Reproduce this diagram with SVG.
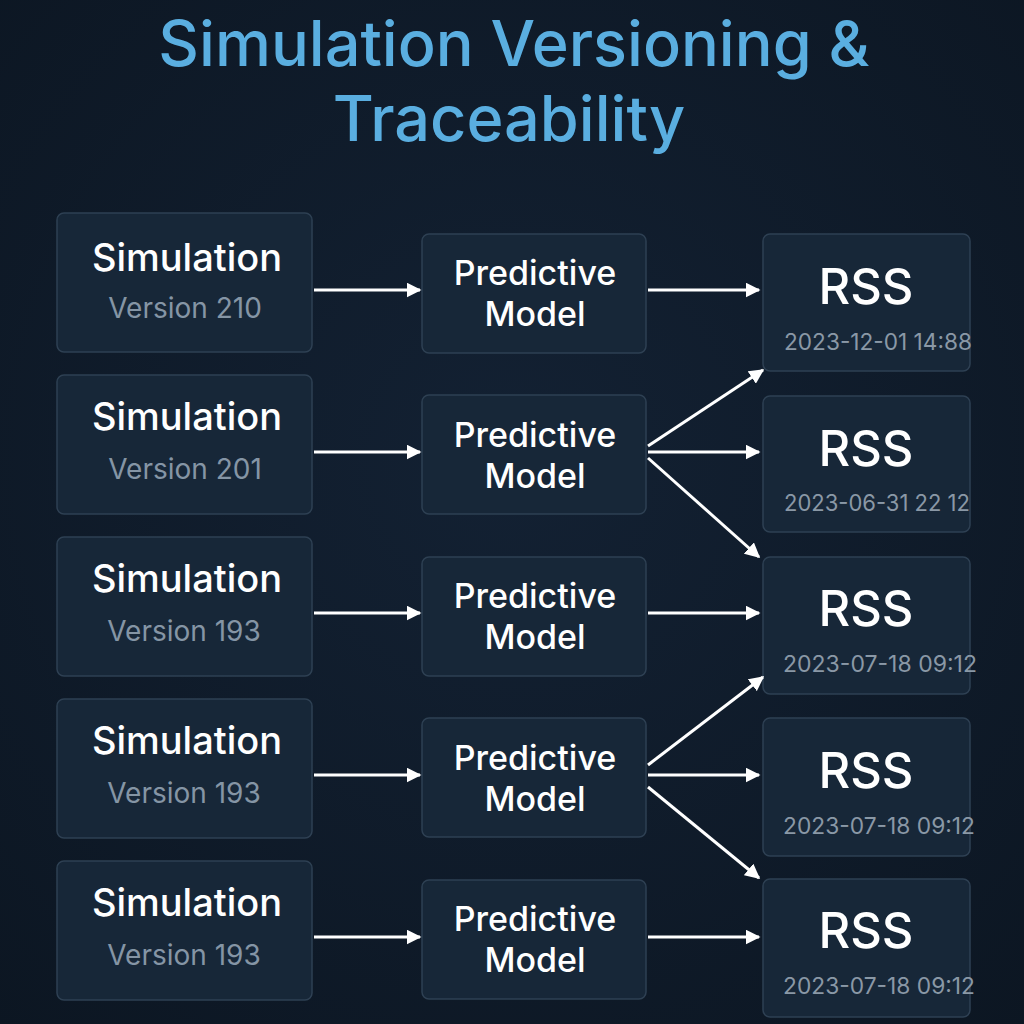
<svg xmlns="http://www.w3.org/2000/svg" width="1024" height="1024" viewBox="0 0 1024 1024">
<defs>
<marker id="ah" viewBox="0 0 10 10" refX="9" refY="5" markerWidth="15" markerHeight="15" markerUnits="userSpaceOnUse" orient="auto">
<path d="M0,0 L10,5 L0,10 Z" fill="#ffffff"/>
</marker>
<radialGradient id="bg" cx="50%" cy="45%" r="75%">
<stop offset="0" stop-color="#132133"/>
<stop offset="1" stop-color="#0c1622"/>
</radialGradient>
</defs>
<style>
.box{fill:#172738;stroke:#2e4053;stroke-width:1.5}
.t{font-family:Inter,"Noto Sans","Liberation Sans",sans-serif;text-anchor:middle}
.sim{font-size:38px;fill:#ffffff;font-weight:500}
.ver{font-size:28px;fill:#8595a5}
.pm{font-size:34px;fill:#ffffff;font-weight:500}
.rss{font-size:49px;fill:#ffffff;font-weight:500}
.dt{font-size:23px;fill:#8a98a6}
.title{font-size:63px;fill:#5aaee0;font-weight:500}
.c{stroke:#ffffff;stroke-width:3;fill:none;marker-end:url(#ah)}
</style>
<rect width="1024" height="1024" fill="url(#bg)"/>
<g id="title">
<text class="t title" x="514" y="66">Simulation Versioning &amp;</text>
<text class="t title" x="509" y="141">Traceability</text>
</g>
<g id="sim1"><rect class="box" x="57" y="213" width="255" height="139" rx="7"/><text class="t sim" x="187" y="271">Simulation</text><text class="t ver" x="185" y="318">Version 210</text></g>
<g id="sim2"><rect class="box" x="57" y="375" width="255" height="139" rx="7"/><text class="t sim" x="187" y="430">Simulation</text><text class="t ver" x="185" y="479">Version 201</text></g>
<g id="sim3"><rect class="box" x="57" y="537" width="255" height="139" rx="7"/><text class="t sim" x="187" y="592">Simulation</text><text class="t ver" x="184" y="641">Version 193</text></g>
<g id="sim4"><rect class="box" x="57" y="699" width="255" height="139" rx="7"/><text class="t sim" x="187" y="754">Simulation</text><text class="t ver" x="184" y="803">Version 193</text></g>
<g id="sim5"><rect class="box" x="57" y="861" width="255" height="139" rx="7"/><text class="t sim" x="187" y="916">Simulation</text><text class="t ver" x="184" y="965">Version 193</text></g>

<g id="pm1"><rect class="box" x="422" y="234" width="224" height="119" rx="7"/><text class="t pm" x="535" y="285">Predictive</text><text class="t pm" x="535" y="326">Model</text></g>
<g id="pm2"><rect class="box" x="422" y="395" width="224" height="119" rx="7"/><text class="t pm" x="535" y="447">Predictive</text><text class="t pm" x="535" y="488">Model</text></g>
<g id="pm3"><rect class="box" x="422" y="557" width="224" height="119" rx="7"/><text class="t pm" x="535" y="608">Predictive</text><text class="t pm" x="535" y="649">Model</text></g>
<g id="pm4"><rect class="box" x="422" y="718" width="224" height="119" rx="7"/><text class="t pm" x="535" y="770">Predictive</text><text class="t pm" x="535" y="811">Model</text></g>
<g id="pm5"><rect class="box" x="422" y="880" width="224" height="119" rx="7"/><text class="t pm" x="535" y="931">Predictive</text><text class="t pm" x="535" y="972">Model</text></g>

<g id="rss1"><rect class="box" x="763" y="234" width="207" height="137" rx="7"/><text class="t rss" x="866" y="304">RSS</text><text class="t dt" x="878" y="350" textLength="188" lengthAdjust="spacingAndGlyphs">2023-12-01 14:88</text></g>
<g id="rss2"><rect class="box" x="763" y="396" width="207" height="136" rx="7"/><text class="t rss" x="866" y="466">RSS</text><text class="t dt" x="877" y="511" textLength="186" lengthAdjust="spacingAndGlyphs">2023-06-31 22 12</text></g>
<g id="rss3"><rect class="box" x="763" y="557" width="207" height="137" rx="7"/><text class="t rss" x="866" y="626">RSS</text><text class="t dt" x="880" y="672" textLength="194" lengthAdjust="spacingAndGlyphs">2023-07-18 09:12</text></g>
<g id="rss4"><rect class="box" x="763" y="718" width="207" height="138" rx="7"/><text class="t rss" x="866" y="788">RSS</text><text class="t dt" x="879" y="834" textLength="192" lengthAdjust="spacingAndGlyphs">2023-07-18 09:12</text></g>
<g id="rss5"><rect class="box" x="763" y="879" width="207" height="138" rx="7"/><text class="t rss" x="866" y="948">RSS</text><text class="t dt" x="879" y="994" textLength="192" lengthAdjust="spacingAndGlyphs">2023-07-18 09:12</text></g>

<g id="connectors">
<line class="c" x1="314" y1="290" x2="420" y2="290"/>
<line class="c" x1="314" y1="452" x2="420" y2="452"/>
<line class="c" x1="314" y1="613" x2="420" y2="613"/>
<line class="c" x1="314" y1="775" x2="420" y2="775"/>
<line class="c" x1="314" y1="937" x2="420" y2="937"/>
<line class="c" x1="648" y1="290" x2="759" y2="290"/>
<line class="c" x1="648" y1="446" x2="763" y2="370"/>
<line class="c" x1="648" y1="452" x2="759" y2="452"/>
<line class="c" x1="648" y1="458" x2="759" y2="557"/>
<line class="c" x1="648" y1="613" x2="759" y2="613"/>
<line class="c" x1="648" y1="765" x2="763" y2="677"/>
<line class="c" x1="648" y1="775" x2="759" y2="775"/>
<line class="c" x1="648" y1="787" x2="759" y2="878"/>
<line class="c" x1="648" y1="937" x2="759" y2="937"/>
</g>
</svg>
